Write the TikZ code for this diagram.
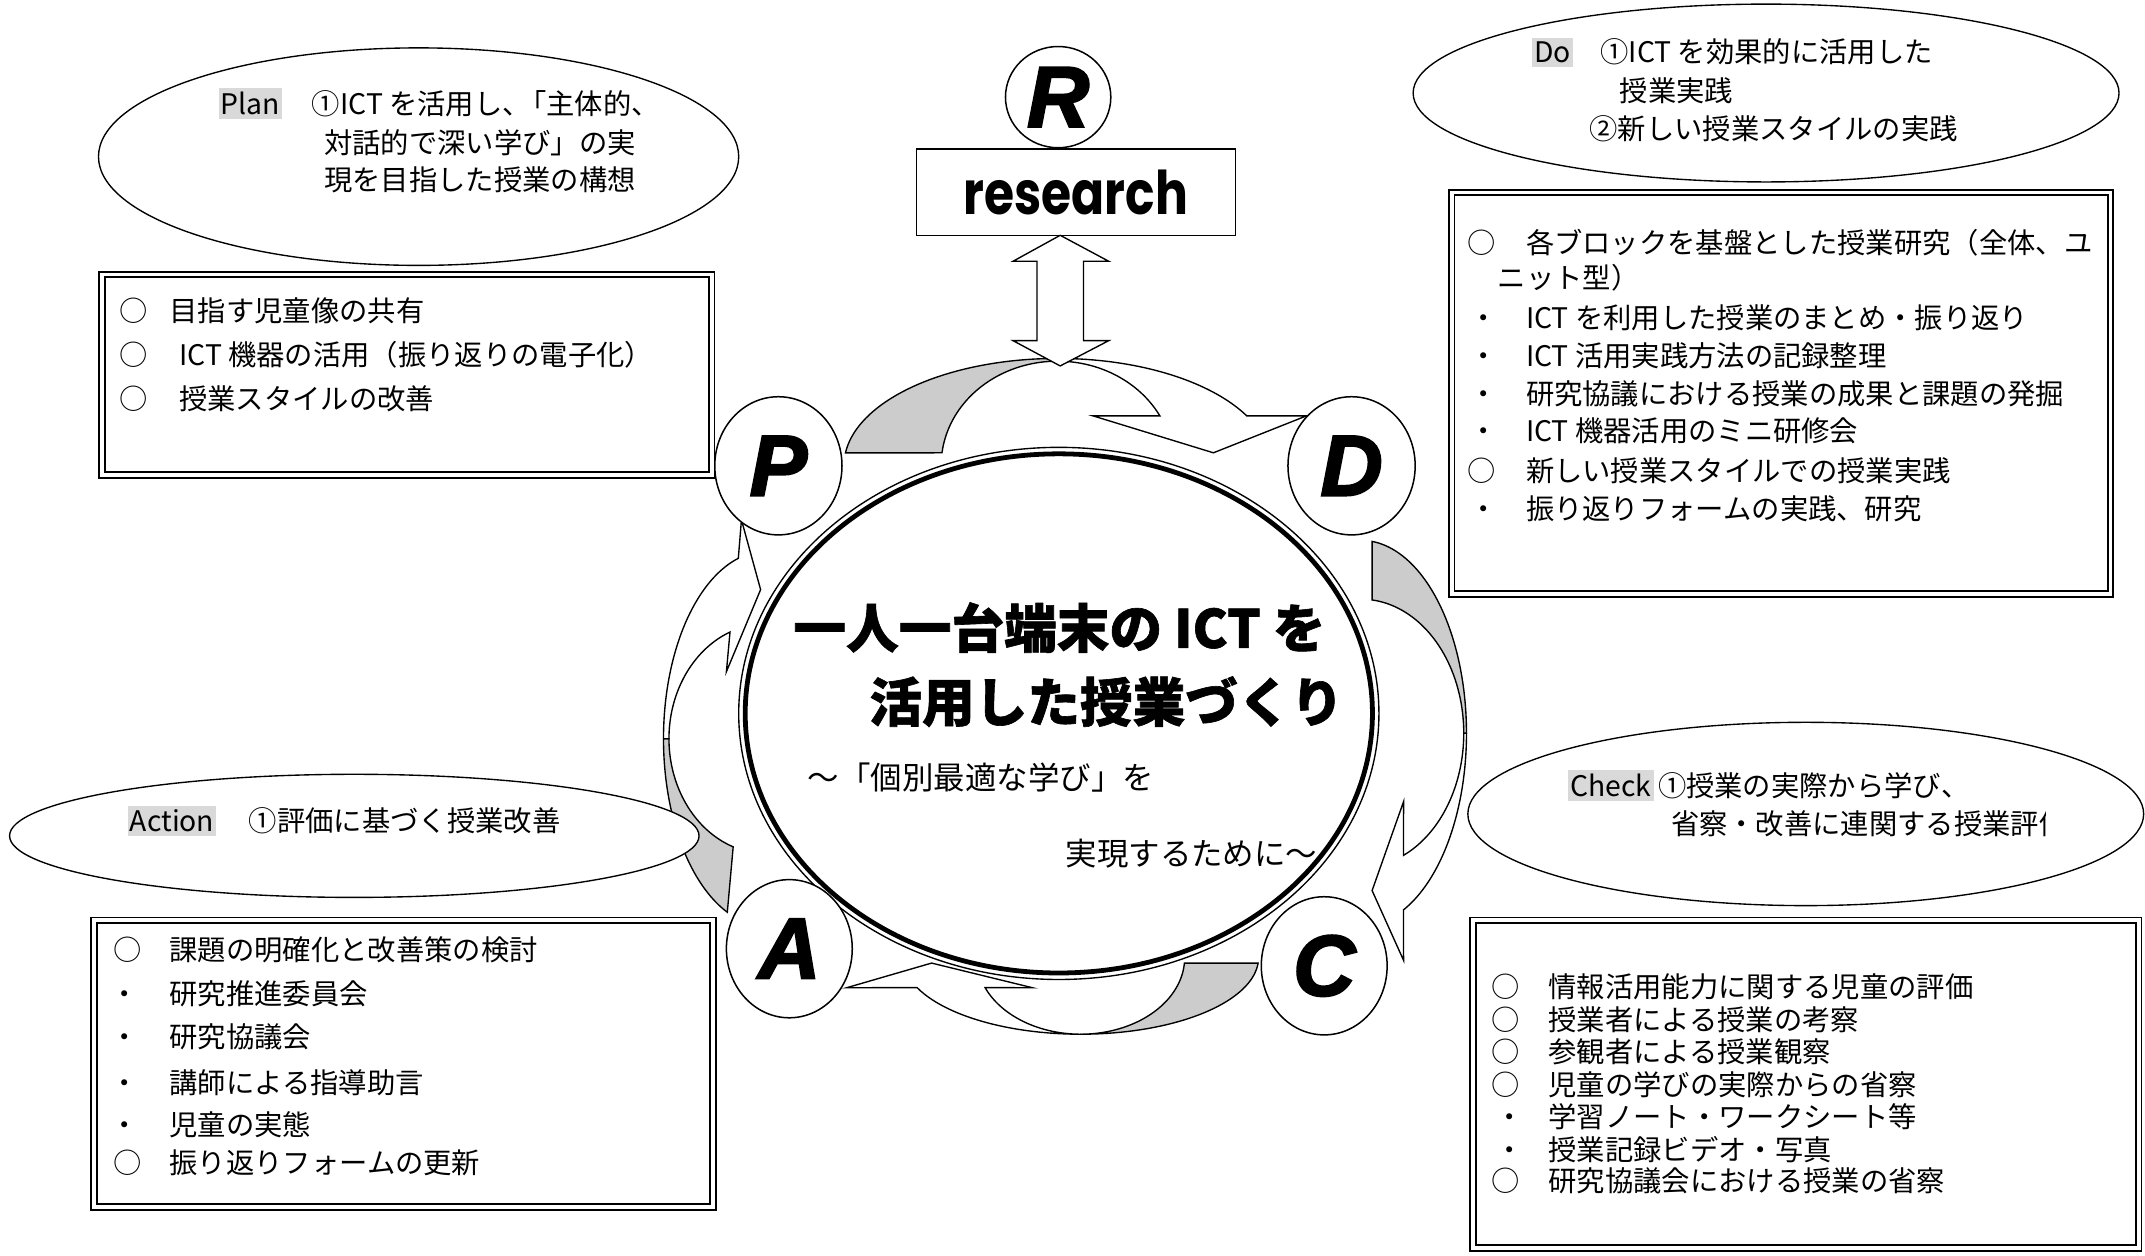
\documentclass[tikz,border=0pt]{standalone}
\usepackage{fontspec}
\usepackage{graphicx}
\setmainfont{Noto Sans CJK JP}
\newfontfamily\jp{Noto Sans CJK JP}
\newfontfamily\jpt{Noto Sans CJK JP}[BoldFeatures={FakeBold=1.2}]
\newfontfamily\letf{Liberation Sans}[BoldItalicFeatures={FakeBold=2.5}]
\newfontfamily\popf{Poppins}
\usetikzlibrary{shapes.geometric}
\tikzset{
  every node/.style={inner sep=0pt, outer sep=0pt},
  bub/.style={draw, ellipse, line width=1pt, fill=white},
  letter/.style={draw, ellipse, line width=1.1pt, fill=white, font=\letf\bfseries\itshape\fontsize{63}{63}\selectfont},
  dbox/.style={draw, double=white, double distance=2.8pt, line width=1.3pt, rectangle, fill=white},
  txt/.style={anchor=base west, font=\jp\fontsize{20.7}{24}\selectfont},
  hl/.style={txt, fill=gray!30, inner xsep=1.5pt, inner ysep=3pt},
  ttl/.style={anchor=base west, font=\jpt\bfseries\fontsize{38.5}{40}\selectfont},
  sub/.style={anchor=base west, font=\jp\fontsize{23}{26}\selectfont},
  arrw/.style={draw, line width=1pt, fill=white, line join=miter},
  arrg/.style={draw, line width=1pt, fill=gray!40},
}
\begin{document}
\begin{tikzpicture}[x=1pt, y=-1pt]
\useasboundingbox (0,0) rectangle (1568,918);

% ---- curved arrows of the cycle ----
% top (P -> D)
\draw[arrg] plot[domain=186.6:270, samples=40, variable=\t] ({773+156*cos(\t)},{340+78*sin(\t)})
  -- plot[domain=270:186.8, samples=40, variable=\t] ({773+85*cos(\t)},{340+76*sin(\t)}) -- cycle;
\draw[arrw] plot[domain=270:332.5, samples=40, variable=\t] ({773+156*cos(\t)},{340+78*sin(\t)})
  -- (955,304) -- (887,331) -- (799,304)
  -- plot[domain=331.7:270, samples=40, variable=\t] ({773+85*cos(\t)},{340+76*sin(\t)}) -- cycle;
% right (D -> C)
\draw[arrg] plot[domain=-84:0, samples=40, variable=\t] ({995+77*cos(\t)},{536+141*sin(\t)})
  -- plot[domain=0:-83.9, samples=40, variable=\t] ({995+75*cos(\t)},{536+98*sin(\t)}) -- cycle;
\draw[arrw] plot[domain=0:66.3, samples=40, variable=\t] ({995+77*cos(\t)},{536+141*sin(\t)})
  -- (1026,702) -- (1003,651) -- (1026,586)
  -- plot[domain=65.6:0, samples=40, variable=\t] ({995+75*cos(\t)},{536+98*sin(\t)}) -- cycle;
% bottom (C -> A)
\draw[arrg] plot[domain=4.1:90, samples=40, variable=\t] ({790+130*cos(\t)},{700+56*sin(\t)})
  -- plot[domain=90:4.1, samples=40, variable=\t] ({790+76*cos(\t)},{700+56*sin(\t)}) -- cycle;
\draw[arrw] plot[domain=90:156.9, samples=40, variable=\t] ({790+130*cos(\t)},{700+56*sin(\t)})
  -- (619,722) -- (681,704) -- (754.6,722)
  -- plot[domain=156.9:90, samples=40, variable=\t] ({790+76*cos(\t)},{700+56*sin(\t)}) -- cycle;
% left (A -> P)
\draw[arrg] plot[domain=112.2:180, samples=40, variable=\t] ({560+75*cos(\t)},{540+137*sin(\t)})
  -- plot[domain=180:109.8, samples=40, variable=\t] ({560+71*cos(\t)},{540+84*sin(\t)}) -- cycle;
\draw[arrw] plot[domain=180:254.3, samples=40, variable=\t] ({560+75*cos(\t)},{540+137*sin(\t)})
  -- (542,380) -- (556,431) -- (531,491)
  -- plot[domain=248.2:180, samples=40, variable=\t] ({560+71*cos(\t)},{540+84*sin(\t)}) -- cycle;

% ---- R and research ----
\node[letter, minimum width=77pt, minimum height=74pt] (R) at (773.5,71) {R};
\node[draw, line width=1.1pt, fill=white, minimum width=233pt, minimum height=63pt] (research) at (786.5,140.5)
  {\scalebox{0.81}[1]{\popf\bfseries\fontsize{44}{44}\selectfont research}};
% double block arrow between research and the cycle
\draw[arrw] (research.south) ++(-11.5,0) coordinate (dtop) -- (810.5,191) -- (792,191) -- (792,249) -- (810.5,249)
  -- (775,267.5) -- (740.5,249) -- (758,249) -- (758,191) -- (740.5,191) -- cycle;

% ---- central ellipse ----
\node[draw, ellipse, line width=1pt, fill=white, minimum width=468pt, minimum height=389pt] (cen) at (774,521.5) {};
\node[draw, ellipse, line width=3.5pt, minimum width=458.5pt, minimum height=379.5pt] (cenin) at (774,521.5) {};
\node[ttl] (t1) at (580,473.6) {一人一台端末の ICT を};
\node[ttl] (t2) at (635.5,527.6) {活用した授業づくり};
\node[sub] (s1) at (590.6,577) {～「個別最適な学び」を};
\node[sub] (s2) at (779,633) {実現するために～};

% ---- PDCA circles ----
\node[letter, minimum width=93pt, minimum height=101pt] (P) at (569,340.5) {P};
\node[letter, minimum width=93pt, minimum height=101pt] (D) at (988,340.5) {D};
\node[letter, minimum width=92pt, minimum height=101pt] (A) at (577,693.5) {A};
\node[letter, minimum width=92pt, minimum height=101pt] (C) at (968,706) {C};

% ---- speech ellipses ----
\node[bub, minimum width=468pt, minimum height=159pt] (planb) at (306,114.5) {};
\node[bub, minimum width=516pt, minimum height=130pt] (dob) at (1291,68) {};
\node[bub, minimum width=494pt, minimum height=134pt] (chkb) at (1320,595) {};
\node[bub, minimum width=504pt, minimum height=90pt] (actb) at (259,611) {};

% ---- boxes ----
\node[dbox, minimum width=445.6pt, minimum height=146.6pt] (planbox) at (297.5,274) {};
\node[dbox, minimum width=481.6pt, minimum height=293.6pt] (dobox) at (1302,287.5) {};
\node[dbox, minimum width=486.6pt, minimum height=239.6pt] (chkbox) at (1320,792.5) {};
\node[dbox, minimum width=452.6pt, minimum height=209.6pt] (actbox) at (295,777.5) {};

% ---- Plan ----
\node[hl] (planhl) at (160,84) {Plan};
\node[txt] (plan1) at (228,84) {①ICT を活用し、\kern-.45em「主体的、};
\node[txt] (plan2) at (237,112) {対話的で深い学び」の実};
\node[txt] (plan3) at (237,139) {現を目指した授業の構想};
\node[txt] (pb1m) at (87.5,235) {○};
\node[txt] (pb1) at (124,235) {目指す児童像の共有};
\node[txt] (pb2m) at (87.5,267) {○};
\node[txt] (pb2) at (131,267) {ICT 機器の活用（振り返りの電子化）};
\node[txt] (pb3m) at (87.5,299) {○};
\node[txt] (pb3) at (131,299) {授業スタイルの改善};

% ---- Do ----
\node[hl] (dohl) at (1120,46) {Do};
\node[txt] (do1) at (1170,46) {①ICT を効果的に活用した};
\node[txt] (do2) at (1184,74) {授業実践};
\node[txt] (do3) at (1162,102) {②新しい授業スタイルの実践};
\node[txt] (db1m) at (1073,185) {○};
\node[txt] (db1) at (1115.5,185) {各ブロックを基盤とした授業研究（全体、ユ};
\node[txt] (db1b) at (1095,211) {ニット型）};
\node[txt] (db2m) at (1074,240) {・};
\node[txt] (db2) at (1115.5,240) {ICT を利用した授業のまとめ・振り返り};
\node[txt] (db3m) at (1074,268) {・};
\node[txt] (db3) at (1115.5,268) {ICT 活用実践方法の記録整理};
\node[txt] (db4m) at (1074,296) {・};
\node[txt] (db4) at (1115.5,296) {研究協議における授業の成果と課題の発掘};
\node[txt] (db5m) at (1074,323) {・};
\node[txt] (db5) at (1115.5,323) {ICT 機器活用のミニ研修会};
\node[txt] (db6m) at (1073,352) {○};
\node[txt] (db6) at (1115.5,352) {新しい授業スタイルでの授業実践};
\node[txt] (db7m) at (1074,380) {・};
\node[txt] (db7) at (1115.5,380) {振り返りフォームの実践、研究};

% ---- Check ----
\node[hl] (chkhl) at (1146.5,582) {Check};
\node[txt] (chk1) at (1212,582) {①授業の実際から学び、};
\begin{scope}
\clip (1200,585) rectangle (1495,625);
\node[txt] (chk2) at (1221.5,610) {省察・改善に連関する授業評価};
\end{scope}
\node[txt] (cb1m) at (1090,729) {○};
\node[txt] (cb1) at (1132,729) {情報活用能力に関する児童の評価};
\node[txt] (cb2m) at (1090,753) {○};
\node[txt] (cb2) at (1132,753) {授業者による授業の考察};
\node[txt] (cb3m) at (1090,777) {○};
\node[txt] (cb3) at (1132,777) {参観者による授業観察};
\node[txt] (cb4m) at (1090,801) {○};
\node[txt] (cb4) at (1132,801) {児童の学びの実際からの省察};
\node[txt] (cb5m) at (1093,824) {・};
\node[txt] (cb5) at (1132,824) {学習ノート・ワークシート等};
\node[txt] (cb6m) at (1093,848) {・};
\node[txt] (cb6) at (1132,848) {授業記録ビデオ・写真};
\node[txt] (cb7m) at (1090,871) {○};
\node[txt] (cb7) at (1132,871) {研究協議会における授業の省察};

% ---- Action ----
\node[hl] (acthl) at (93.5,608) {Action};
\node[txt] (act1) at (182,608) {①評価に基づく授業改善};
\node[txt] (ab1m) at (83,702) {○};
\node[txt] (ab1) at (124,702) {課題の明確化と改善策の検討};
\node[txt] (ab2m) at (81,734) {・};
\node[txt] (ab2) at (124,734) {研究推進委員会};
\node[txt] (ab3m) at (81,766) {・};
\node[txt] (ab3) at (124,766) {研究協議会};
\node[txt] (ab4m) at (81,799) {・};
\node[txt] (ab4) at (124,799) {講師による指導助言};
\node[txt] (ab5m) at (81,830) {・};
\node[txt] (ab5) at (124,830) {児童の実態};
\node[txt] (ab6m) at (83,858) {○};
\node[txt] (ab6) at (124,858) {振り返りフォームの更新};
\end{tikzpicture}
\end{document}
